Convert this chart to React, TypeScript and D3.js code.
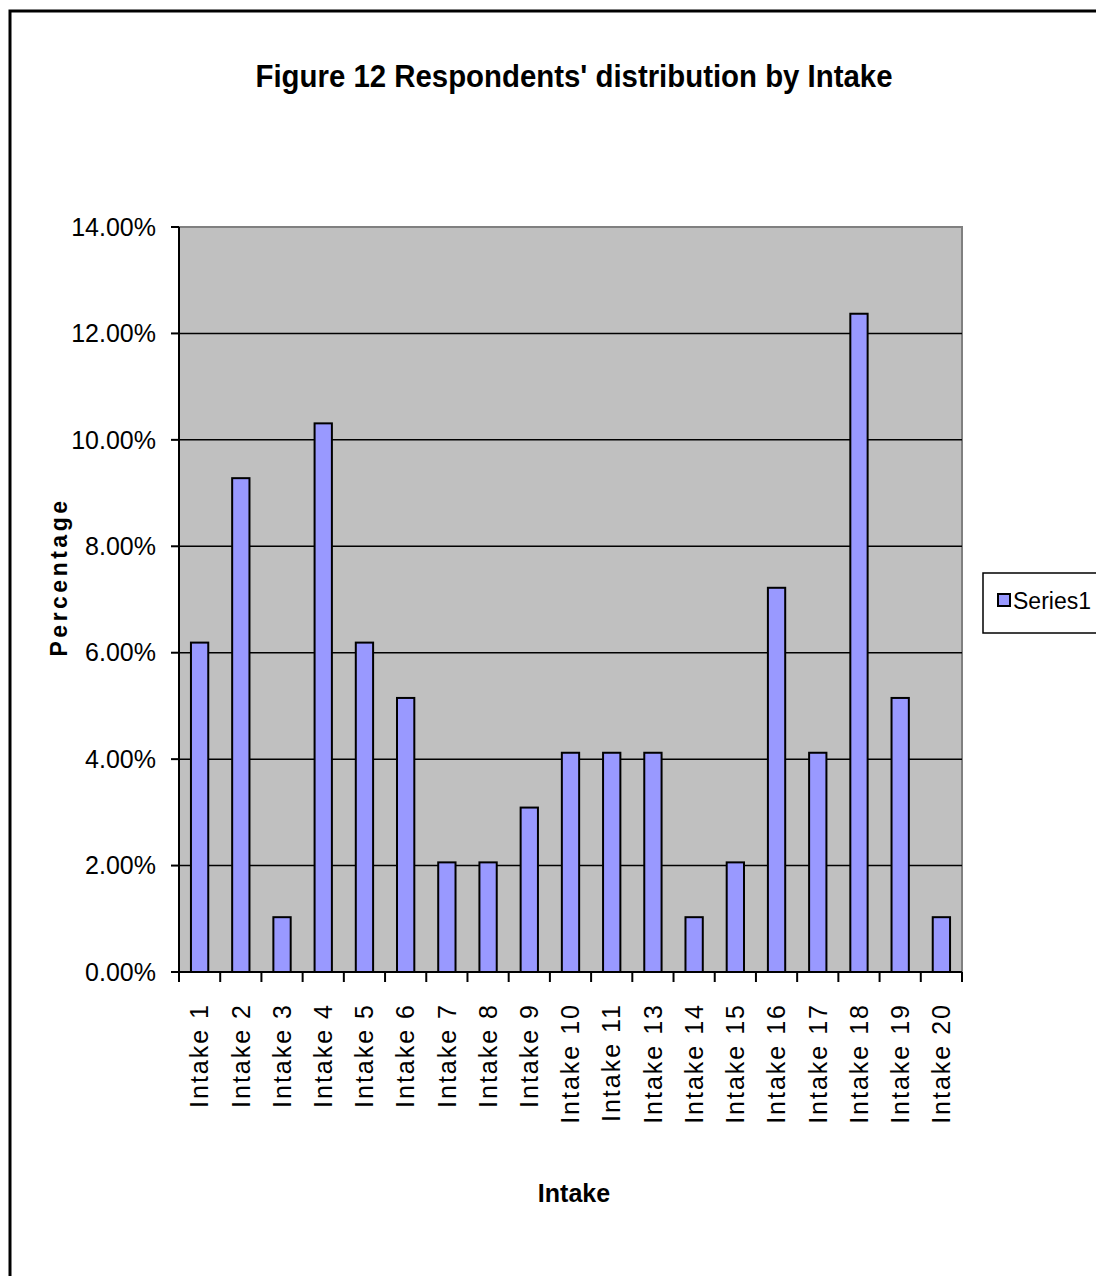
import * as d3 from "d3";

const categories = [
  "Intake 1", "Intake 2", "Intake 3", "Intake 4", "Intake 5", "Intake 6", "Intake 7",
  "Intake 8", "Intake 9", "Intake 10", "Intake 11", "Intake 13", "Intake 14",
  "Intake 15", "Intake 16", "Intake 17", "Intake 18", "Intake 19", "Intake 20",
];
const values = [
  6.19, 9.28, 1.03, 10.31, 6.19, 5.15, 2.06, 2.06, 3.09, 4.12, 4.12, 4.12, 1.03,
  2.06, 7.22, 4.12, 12.37, 5.15, 1.03,
];
const yTicks = [0, 2, 4, 6, 8, 10, 12, 14];

const W = 1096;
const H = 1276;
const PLOT = { left: 179, right: 962, top: 227, bottom: 972 };
const FONT = "Arial, 'Liberation Sans', Helvetica, sans-serif";

export default function App() {
  const x = d3
    .scaleBand()
    .domain(categories)
    .range([PLOT.left, PLOT.right])
    .paddingInner(0)
    .paddingOuter(0);
  const y = d3.scaleLinear().domain([0, 14]).range([PLOT.bottom, PLOT.top]);
  const barW = x.bandwidth() * 0.42;

  return (
    <svg
      width={W}
      height={H}
      style={{ position: "absolute", left: 0, top: 0, background: "#fff" }}
      fontFamily={FONT}
    >
      {/* outer frame */}
      <rect x={10} y={11} width={W + 20} height={H + 20} fill="#fff" stroke="#000" strokeWidth={3} />

      <text
        x={574}
        y={87}
        textAnchor="middle"
        fontSize={32}
        fontWeight="bold"
        textLength={637}
        lengthAdjust="spacingAndGlyphs"
      >
        Figure 12 Respondents' distribution by Intake
      </text>

      {/* plot area */}
      <rect
        x={PLOT.left}
        y={PLOT.top}
        width={PLOT.right - PLOT.left}
        height={PLOT.bottom - PLOT.top}
        fill="#C0C0C0"
        stroke="#808080"
        strokeWidth={2}
      />
      {yTicks.slice(1, -1).map((t) => (
        <line key={t} x1={PLOT.left} x2={PLOT.right} y1={y(t)} y2={y(t)} stroke="#000" strokeWidth={1.5} />
      ))}

      {categories.map((c, i) => (
        <rect
          key={c}
          x={(x(c) ?? 0) + (x.bandwidth() - barW) / 2}
          y={y(values[i])}
          width={barW}
          height={y(0) - y(values[i])}
          fill="#9999FF"
          stroke="#000"
          strokeWidth={2}
        />
      ))}

      {/* y axis */}
      <line x1={PLOT.left} x2={PLOT.left} y1={PLOT.top} y2={PLOT.bottom} stroke="#000" strokeWidth={2} />
      {yTicks.map((t) => (
        <g key={t}>
          <line x1={PLOT.left - 8} x2={PLOT.left} y1={y(t)} y2={y(t)} stroke="#000" strokeWidth={2} />
          <text x={156} y={y(t)} dy="0.35em" textAnchor="end" fontSize={25}>
            {t.toFixed(2)}%
          </text>
        </g>
      ))}

      {/* x axis */}
      <line x1={PLOT.left} x2={PLOT.right} y1={PLOT.bottom} y2={PLOT.bottom} stroke="#000" strokeWidth={2} />
      {[...categories.map((c) => x(c) ?? 0), PLOT.right].map((px, i) => (
        <line key={i} x1={px} x2={px} y1={PLOT.bottom} y2={PLOT.bottom + 10} stroke="#000" strokeWidth={2} />
      ))}
      {categories.map((c) => {
        const cx = (x(c) ?? 0) + x.bandwidth() / 2;
        return (
          <text
            key={c}
            transform={`translate(${cx},1003) rotate(-90)`}
            textAnchor="end"
            dy="0.35em"
            fontSize={25}
            letterSpacing={2}
          >
            {c}
          </text>
        );
      })}

      <text
        transform="translate(59,577) rotate(-90)"
        textAnchor="middle"
        dy="0.35em"
        fontSize={23}
        fontWeight="bold"
        letterSpacing={3.5}
      >
        Percentage
      </text>
      <text
        x={574}
        y={1193}
        dy="0.35em"
        textAnchor="middle"
        fontSize={25}
        fontWeight="bold"
      >
        Intake
      </text>

      {/* legend */}
      <rect x={983} y={573} width={130} height={60} fill="#fff" stroke="#000" strokeWidth={1.5} />
      <rect x={998} y={594} width={12} height={12} fill="#9999FF" stroke="#000" strokeWidth={2} />
      <text x={1013} y={601} dy="0.35em" fontSize={23}>
        Series1
      </text>
    </svg>
  );
}
